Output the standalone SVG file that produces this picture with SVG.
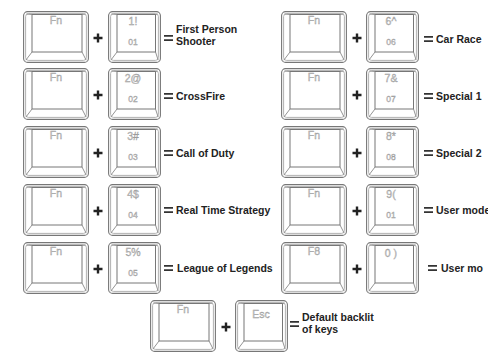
<svg xmlns="http://www.w3.org/2000/svg" xmlns:xlink="http://www.w3.org/1999/xlink" width="488" height="352" viewBox="0 0 488 352">
<style>
.o{fill:#fff;stroke:#777;stroke-width:1.1}
.i{fill:none;stroke:#a8a8a8;stroke-width:0.9}
.f{fill:#fff;stroke:#777;stroke-width:1}
.b{stroke:#888;stroke-width:0.9}
.kl{font-family:"Liberation Sans",Arial,sans-serif;font-size:10.5px;fill:#c8c8c8;stroke:#999;stroke-width:0.35;text-anchor:middle}
.ks{font-family:"Liberation Sans",Arial,sans-serif;font-size:8.5px;fill:#c8c8c8;stroke:#999;stroke-width:0.35;text-anchor:middle}
.t{font-family:"Liberation Sans",Arial,sans-serif;font-size:10.5px;font-weight:bold;fill:#222}
.op{stroke:#222;stroke-width:2.4;fill:none}
.eq{stroke:#333;stroke-width:1.7;fill:none}
</style>
<defs>
<symbol id="fnkey" viewBox="0 0 66 52" width="66" height="52">
<rect class="o" x="0.6" y="0.6" width="64.8" height="50.8" rx="4"/>
<rect class="i" x="2.6" y="2.6" width="60.8" height="46.8" rx="3"/>
<rect class="f" x="9" y="3.5" width="50" height="37.5"/>
<line class="b" x1="9" y1="41" x2="2.8" y2="49.2"/>
<line class="b" x1="59" y1="41" x2="63.2" y2="49.2"/>
<line class="b" x1="9" y1="3.5" x2="3.5" y2="3"/>
<line class="b" x1="59" y1="3.5" x2="62.5" y2="3"/>
</symbol>
<symbol id="numkey" viewBox="0 0 53 52" width="53" height="52">
<rect class="o" x="0.6" y="0.6" width="51.8" height="50.8" rx="4"/>
<rect class="i" x="2.6" y="2.6" width="47.8" height="46.8" rx="3"/>
<rect class="f" x="9" y="3.5" width="38.5" height="37.5"/>
<line class="b" x1="9" y1="41" x2="2.8" y2="49.2"/>
<line class="b" x1="47.5" y1="41" x2="50.2" y2="49.2"/>
<line class="b" x1="9" y1="3.5" x2="3.5" y2="3"/>
<line class="b" x1="47.5" y1="3.5" x2="49.5" y2="3"/>
</symbol>
<g id="plus"><path class="op" d="M-4.5 0H4.5M0 -4.5V4.5"/></g>
<g id="eq"><path class="eq" d="M0 -2.2H9M0 2.2H9"/></g>
</defs>

<g id="connectors">
<use xlink:href="#plus" x="98" y="38"/>
<use xlink:href="#plus" x="98" y="95"/>
<use xlink:href="#plus" x="98" y="153"/>
<use xlink:href="#plus" x="98" y="211"/>
<use xlink:href="#plus" x="98" y="269"/>
<use xlink:href="#plus" x="357" y="38"/>
<use xlink:href="#plus" x="357" y="95"/>
<use xlink:href="#plus" x="357" y="153"/>
<use xlink:href="#plus" x="357" y="211"/>
<use xlink:href="#plus" x="357" y="269"/>
<use xlink:href="#plus" x="226" y="327"/>
<use xlink:href="#eq" x="164" y="38"/>
<use xlink:href="#eq" x="164" y="96"/>
<use xlink:href="#eq" x="164" y="153"/>
<use xlink:href="#eq" x="164" y="210"/>
<use xlink:href="#eq" x="164" y="268"/>
<use xlink:href="#eq" x="424" y="39"/>
<use xlink:href="#eq" x="424" y="96"/>
<use xlink:href="#eq" x="424" y="153"/>
<use xlink:href="#eq" x="424" y="210"/>
<use xlink:href="#eq" x="428" y="268"/>
<use xlink:href="#eq" x="290" y="324"/>
</g>

<g id="row1-left">
<use xlink:href="#fnkey" x="23" y="11"/><text class="kl" x="56" y="24">Fn</text>
<use xlink:href="#numkey" x="108" y="11"/><text class="kl" x="133" y="25">1!</text><text class="ks" x="133" y="45">01</text>
<text class="t" x="176" y="33">First Person</text><text class="t" x="176" y="45">Shooter</text>
</g>
<g id="row2-left">
<use xlink:href="#fnkey" x="23" y="68"/><text class="kl" x="56" y="81">Fn</text>
<use xlink:href="#numkey" x="108" y="68"/><text class="kl" x="133" y="82">2@</text><text class="ks" x="133" y="102">02</text>
<text class="t" x="176" y="100">CrossFire</text>
</g>
<g id="row3-left">
<use xlink:href="#fnkey" x="23" y="126"/><text class="kl" x="56" y="139">Fn</text>
<use xlink:href="#numkey" x="108" y="126"/><text class="kl" x="133" y="140">3#</text><text class="ks" x="133" y="160">03</text>
<text class="t" x="176" y="157">Call of Duty</text>
</g>
<g id="row4-left">
<use xlink:href="#fnkey" x="23" y="184"/><text class="kl" x="56" y="197">Fn</text>
<use xlink:href="#numkey" x="108" y="184"/><text class="kl" x="133" y="198">4$</text><text class="ks" x="133" y="218">04</text>
<text class="t" x="176" y="214">Real Time Strategy</text>
</g>
<g id="row5-left">
<use xlink:href="#fnkey" x="23" y="242"/><text class="kl" x="56" y="255">Fn</text>
<use xlink:href="#numkey" x="108" y="242"/><text class="kl" x="133" y="256">5%</text><text class="ks" x="133" y="276">05</text>
<text class="t" x="177" y="272">League of Legends</text>
</g>

<g id="row1-right">
<use xlink:href="#fnkey" x="281" y="11"/><text class="kl" x="314" y="24">Fn</text>
<use xlink:href="#numkey" x="366" y="11"/><text class="kl" x="391" y="25">6^</text><text class="ks" x="391" y="45">06</text>
<text class="t" x="436" y="43">Car Race</text>
</g>
<g id="row2-right">
<use xlink:href="#fnkey" x="281" y="68"/><text class="kl" x="314" y="81">Fn</text>
<use xlink:href="#numkey" x="366" y="68"/><text class="kl" x="391" y="82">7&amp;</text><text class="ks" x="391" y="102">07</text>
<text class="t" x="436" y="100">Special 1</text>
</g>
<g id="row3-right">
<use xlink:href="#fnkey" x="281" y="126"/><text class="kl" x="314" y="139">Fn</text>
<use xlink:href="#numkey" x="366" y="126"/><text class="kl" x="391" y="140">8*</text><text class="ks" x="391" y="160">08</text>
<text class="t" x="436" y="157">Special 2</text>
</g>
<g id="row4-right">
<use xlink:href="#fnkey" x="281" y="184"/><text class="kl" x="314" y="197">Fn</text>
<use xlink:href="#numkey" x="366" y="184"/><text class="kl" x="391" y="198">9(</text><text class="ks" x="391" y="218">01</text>
<text class="t" x="436" y="214">User mode</text>
</g>
<g id="row5-right">
<use xlink:href="#fnkey" x="281" y="242"/><text class="kl" x="314" y="255">F8</text>
<use xlink:href="#numkey" x="366" y="242"/><text class="kl" x="391" y="257">0 )</text>
<text class="t" x="441" y="272">User mo</text>
</g>

<g id="row6">
<use xlink:href="#fnkey" x="150" y="300"/><text class="kl" x="183" y="313">Fn</text>
<use xlink:href="#numkey" x="235" y="300"/><text class="kl" x="261" y="318">Esc</text>
<text class="t" x="302" y="321">Default backlit</text><text class="t" x="302" y="333">of keys</text>
</g>
</svg>
